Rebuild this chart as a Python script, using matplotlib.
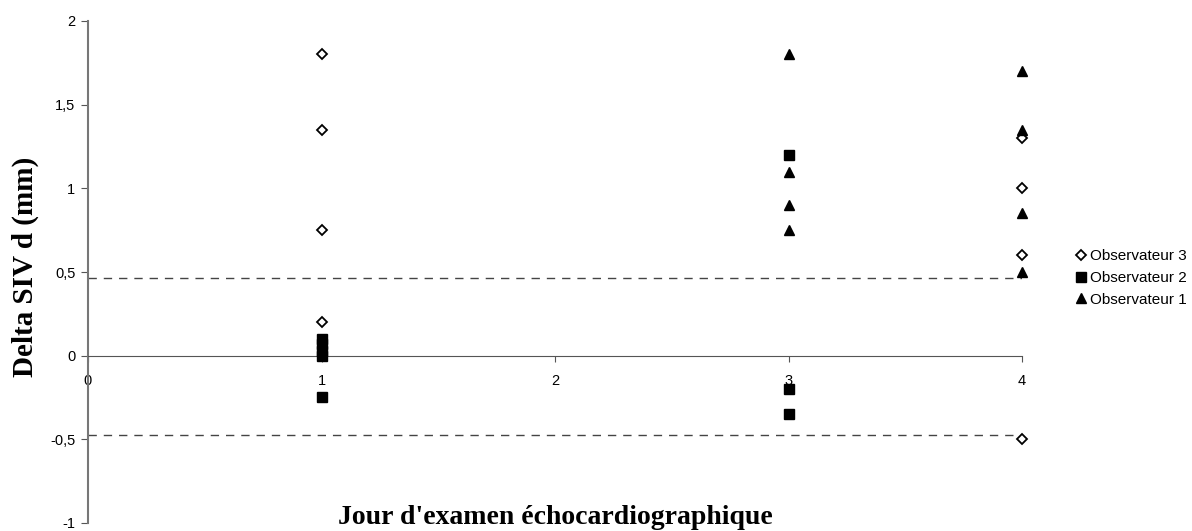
import matplotlib
matplotlib.use("Agg")
import matplotlib.pyplot as plt
from matplotlib.ticker import FuncFormatter

# Delta SIV d (mm) par jour d'examen et par observateur
obs3_x = [1, 1, 1, 1, 4, 4, 4, 4]
obs3_y = [1.8, 1.35, 0.75, 0.2, 1.3, 1.0, 0.6, -0.5]

obs2_x = [1, 1, 1, 1, 1, 3, 3, 3]
obs2_y = [0.1, 0.07, 0.03, 0.0, -0.25, 1.2, -0.2, -0.35]

obs1_x = [3, 3, 3, 3, 4, 4, 4, 4]
obs1_y = [1.8, 1.1, 0.9, 0.75, 1.7, 1.35, 0.85, 0.5]

# Limites de concordance
limit_upper = 0.465
limit_lower = -0.475

x_ticks = [0, 1, 2, 3, 4]
y_ticks = [-1, -0.5, 0, 0.5, 1, 1.5, 2]

fig = plt.figure(figsize=(11.92, 5.31), dpi=100)
ax = fig.add_axes([88 / 1192, 1 - 523 / 531, (1022 - 88) / 1192, (523 - 21) / 531])

ax.axhline(limit_upper, color="#444444", lw=1, ls=(0, (6, 5)), zorder=1)
ax.axhline(limit_lower, color="#444444", lw=1, ls=(0, (6, 5)), zorder=1)

ax.plot(obs3_x, obs3_y, ls="none", marker="D", ms=5, mfc="white", mec="black",
        mew=1.3, label="Observateur 3", zorder=3, clip_on=False)
ax.plot(obs2_x, obs2_y, ls="none", marker="s", ms=6.5, mfc="black", mec="black",
        label="Observateur 2", zorder=3, clip_on=False)
ax.plot(obs1_x, obs1_y, ls="none", marker="^", ms=7.5, mfc="black", mec="black",
        label="Observateur 1", zorder=3, clip_on=False)

ax.set_xlim(0, 4)
ax.set_ylim(-1, 2)
ax.set_xticks(x_ticks)
ax.set_yticks(y_ticks)

def comma(v, pos):
    s = f"{v:g}"
    return s.replace(".", ",")

ax.yaxis.set_major_formatter(FuncFormatter(comma))
ax.xaxis.set_major_formatter(FuncFormatter(comma))

for side in ("top", "right"):
    ax.spines[side].set_visible(False)
ax.spines["bottom"].set_position(("data", 0))
ax.spines["bottom"].set_color("#555555")
ax.spines["left"].set_color("#777777")
ax.spines["left"].set_linewidth(1.5)

ax.tick_params(axis="y", direction="out", length=5, color="#555555",
               labelsize=10.5, pad=4)
ax.tick_params(axis="x", direction="out", length=4, color="#555555",
               labelsize=10.5, pad=9)
for lab in ax.get_xticklabels() + ax.get_yticklabels():
    lab.set_fontfamily("Liberation Sans")

fig.text(555 / 1192, 1 - 517 / 531, "Jour d'examen échocardiographique",
         ha="center", va="center", fontsize=20, fontweight="bold",
         family="Liberation Serif")
fig.text(25 / 1192, 1 - 267 / 531, "Delta SIV d (mm)", rotation=90,
         ha="center", va="center", fontsize=21, fontweight="bold",
         family="Liberation Serif")

leg = fig.legend(loc="center left", bbox_to_anchor=(1070 / 1192, 1 - 278 / 531),
                 frameon=False, prop={"family": "Liberation Sans", "size": 11},
                 handlelength=0.6, handletextpad=0.3, labelspacing=0.5,
                 borderaxespad=0)

fig.savefig("out.png", dpi=100)
